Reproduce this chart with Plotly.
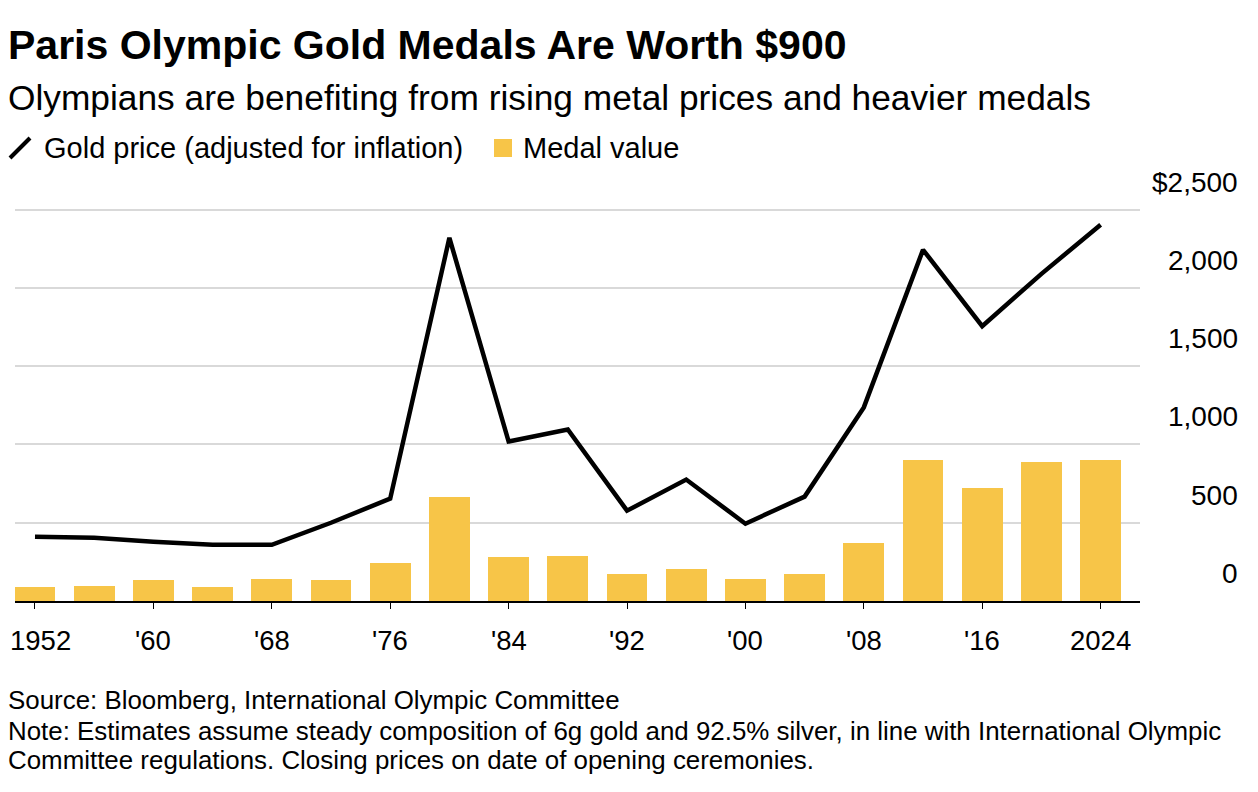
import plotly.graph_objects as go

years = [1952,1956,1960,1964,1968,1972,1976,1980,1984,1988,1992,1996,2000,2004,2008,2012,2016,2020,2024]
gold_price = [410,404,378,359,359,500,654,2320,1019,1096,577,776,494,667,1237,2244,1756,2090,2404]
medal_value = [90,96,135,90,141,135,244,667,282,288,173,205,141,173,372,904,724,885,904]
xtick_vals = [1952,1960,1968,1976,1984,1992,2000,2008,2016,2024]
xtick_text = ["1952","'60","'68","'76","'84","'92","'00","'08","'16","2024"]
ytick_vals = [0,500,1000,1500,2000,2500]
ytick_text = ["0","500","1,000","1,500","2,000","$2,500"]

F = "Liberation Sans, Arial, sans-serif"
O = 8  # page body offset
fig = go.Figure()
fig.add_bar(x=years, y=medal_value, width=2.75, marker_color="#f7c548", marker_line_width=0)
fig.add_scatter(x=years, y=gold_price, mode="lines", line=dict(color="black", width=4.5))

W, H = 1258, 792
L, R, T, B = 15 - O, 1258 - (1140 - O), 197, 792 - (601 - O)
fig.update_layout(
    width=W, height=H, margin=dict(l=L, r=R, t=T, b=B),
    plot_bgcolor="white", paper_bgcolor="white", showlegend=False, bargap=0,
    font=dict(family=F, size=28, color="black"),
    xaxis=dict(range=[1950.65, 2026.66], tickvals=xtick_vals, showticklabels=False,
               showgrid=False, showline=True, linecolor="black", linewidth=1.5,
               ticks="outside", ticklen=6, tickcolor="black", fixedrange=True),
    yaxis=dict(range=[0, 2530], tickvals=ytick_vals, showticklabels=False,
               showgrid=True, gridcolor="#d9d9d9", gridwidth=1.5, zeroline=False),
)
for v, t in zip(ytick_vals, ytick_text):
    fig.add_annotation(x=1.0, xref="paper", xanchor="right", xshift=100, y=v, yref="y",
                       yanchor="bottom", yshift=10, text=t, showarrow=False, font=dict(size=28))
for i, (v, t) in enumerate(zip(xtick_vals, xtick_text)):
    if i == 0:
        fig.add_annotation(x=0, xref="paper", xanchor="left", xshift=-L, y=0, yref="paper",
                           yanchor="middle", yshift=-39, text=t, showarrow=False,
                           font=dict(size=27.5))
    else:
        fig.add_annotation(x=v, xref="x", y=0, yref="paper", yanchor="middle", yshift=-39,
                           text=t, showarrow=False, font=dict(size=27.5))

ann = [
    (6, 45, "<b>Paris Olympic Gold Medals Are Worth $900</b>", 41),
    (6, 98, "Olympians are benefiting from rising metal prices and heavier medals", 35.3),
    (42, 148, "Gold price (adjusted for inflation)", 29),
    (521, 148, "Medal value", 29),
    (6, 700, "Source: Bloomberg, International Olympic Committee", 25.9),
    (6, 731, "Note: Estimates assume steady composition of 6g gold and 92.5% silver, in line with International Olympic", 25.9),
    (6, 760, "Committee regulations. Closing prices on date of opening ceremonies.", 25.9),
]
ph = H - T - B
pw = W - L - R
def px(x): return (x - O - L) / pw
def py(y): return 1 - (y - O - T) / ph
for xp, yp, t, s in ann:
    fig.add_annotation(xref="paper", yref="paper", x=px(xp), y=py(yp),
                       xanchor="left", yanchor="middle", text=t, showarrow=False,
                       font=dict(size=s, family=F, color="black"))
fig.add_shape(type="line", xref="paper", yref="paper", x0=px(10), x1=px(30),
              y0=py(158), y1=py(138), line=dict(color="black", width=4))
fig.add_shape(type="rect", xref="paper", yref="paper", x0=px(494), x1=px(512),
              y0=py(157), y1=py(139), fillcolor="#f7c548", line_width=0)
fig.write_html("out.html")
